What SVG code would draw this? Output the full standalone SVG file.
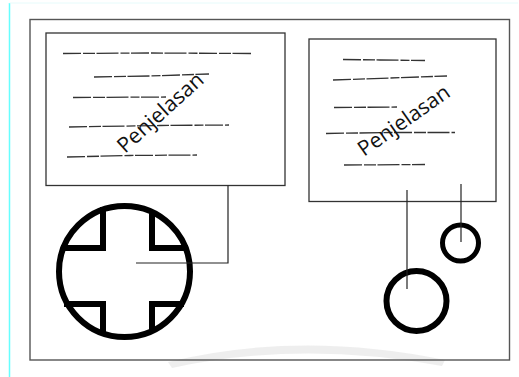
<svg xmlns="http://www.w3.org/2000/svg" width="519" height="377" viewBox="0 0 519 377">
<style>
.frame{fill:none;stroke:#555;stroke-width:1.4}
.box{fill:#fff;stroke:#333;stroke-width:1.3}
.dash{fill:none;stroke:#333;stroke-width:1.3;stroke-dasharray:18 2 12 1.5 22 2 9 1.5}
.lbl{font-family:"Open Sans","Liberation Sans",sans-serif;font-size:21px;fill:#111}
.thick{fill:none;stroke:#000;stroke-width:6}
.conn{fill:none;stroke:#222;stroke-width:1.2}
.wm{fill:#ececec}
</style>
<rect width="519" height="377" fill="#fff"/>
<line x1="9.5" y1="3" x2="9.5" y2="377" stroke="#6ff" stroke-width="1.5"/>
<line x1="9.5" y1="3" x2="518" y2="3" stroke="#e6fbfb" stroke-width="1"/>
<g id="watermark" opacity="0.9">
<path d="M168,362 Q300,330 445,360 L442,366 Q300,340 172,368 Z" class="wm"/>
</g>
<rect id="frame" class="frame" x="30" y="19.5" width="479.5" height="340.5"/>
<g id="box-left">
<rect class="box" x="46" y="33" width="239" height="152.5"/>
<path class="dash" d="M63,53.5 L150,53 L251,53.5"/>
<path class="dash" d="M94,77 L150,76 L209,74"/>
<path class="dash" d="M73,97.5 L166,97"/>
<path class="dash" d="M69,127 L160,125.5 L229,125"/>
<path class="dash" d="M67,157 L130,155.5 L197,155"/>
<text class="lbl" transform="translate(125,154) rotate(-42)" textLength="108" lengthAdjust="spacingAndGlyphs">Penjelasan</text>
</g>
<g id="box-right">
<rect class="box" x="309" y="39" width="187" height="162.5"/>
<path class="dash" d="M343,59.5 L380,60 L425,60.5"/>
<path class="dash" d="M333,80 L390,78 L447,76"/>
<path class="dash" d="M334,107.5 L397,107"/>
<path class="dash" d="M326,133.5 L390,132.5 L455,132.5"/>
<path class="dash" d="M344,165 L425,164.5"/>
<text class="lbl" transform="translate(364,157) rotate(-35)" textLength="107" lengthAdjust="spacingAndGlyphs">Penjelasan</text>
</g>
<g id="cross-circle">
<circle class="thick" cx="124.5" cy="271.5" r="65.5"/>
<path class="thick" d="M103,207 V248 H61"/>
<path class="thick" d="M152,210 V248 H188"/>
<path class="thick" d="M64,304 H103 V335"/>
<path class="thick" d="M184,304 H152 V333"/>
</g>
<g id="circle-small">
<circle cx="460.5" cy="243" r="18" fill="none" stroke="#000" stroke-width="5"/>
</g>
<g id="circle-big">
<circle cx="416.5" cy="301" r="30" fill="none" stroke="#000" stroke-width="6"/>
</g>
<g id="connectors">
<path class="conn" d="M136,263 H228 V185.5"/>
<path class="conn" d="M461,184 V242"/>
<path class="conn" d="M407,190 V289"/>
</g>
</svg>
